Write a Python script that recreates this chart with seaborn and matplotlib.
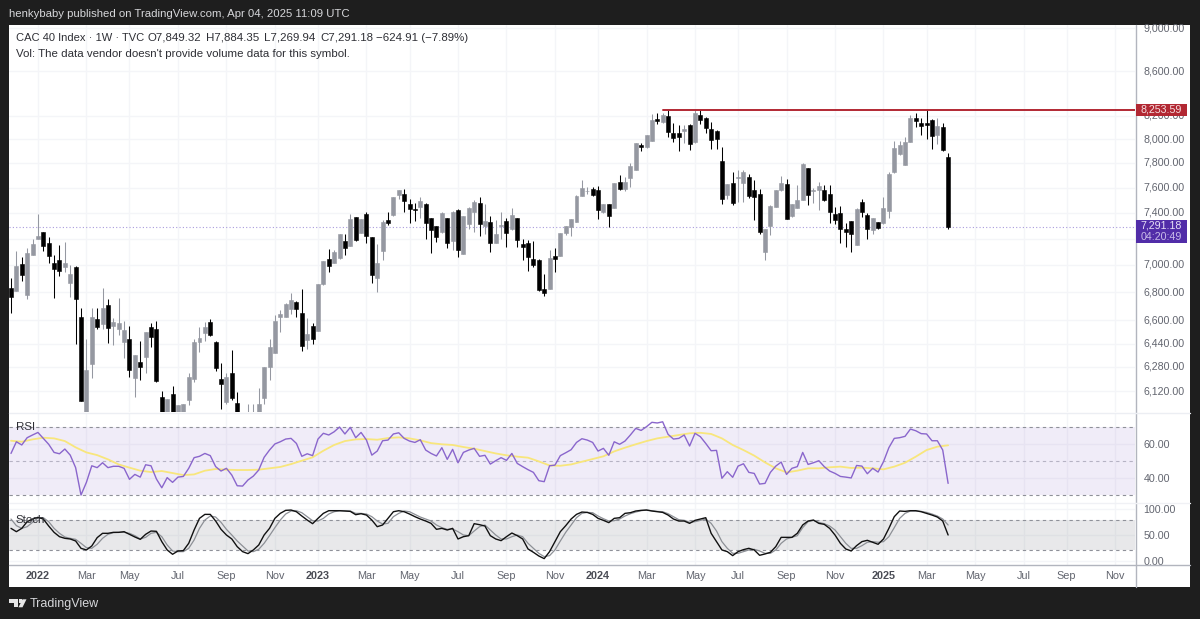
import numpy as np
import pandas as pd
import seaborn as sns
import matplotlib
matplotlib.use("Agg")
import matplotlib.pyplot as plt
from matplotlib.patches import Rectangle, Polygon
from matplotlib.lines import Line2D
from matplotlib.transforms import ScaledTranslation

# weekly OHLC: (open, high, low, close)
ohlc = [
(6834,6902,6655,6767),(6812,7107,6810,6995),(7005,7057,6885,6929),(6783,7125,6750,7087),(7072,7200,7072,7155),
(7195,7390,7195,7218),(7247,7247,7107,7145),(7167,7213,7018,7070),(7018,7075,6757,6971),(7037,7152,6922,6954),
(6988,7170,6951,7012),(6871,7000,6764,6934),(6988,6990,6436,6755),(6621,6686,6061,6061),(5960,6468,5930,6262),
(6298,6686,6211,6621),(6610,6686,6540,6551),(6574,6829,6543,6688),(6712,6750,6445,6549),(6558,6614,6429,6591),
(6543,6757,6498,6579),(6447,6598,6340,6534),(6468,6560,6218,6258),(6209,6362,6085,6362),(6315,6456,6196,6284),
(6351,6516,6240,6516),(6551,6584,6418,6484),(6537,6593,6185,6189),(6085,6120,5930,5960),(5980,6072,5950,6072),
(6103,6155,5950,5970),(5950,6031,5920,6031),(5950,6038,5920,6038),(6068,6244,6031,6218),(6200,6468,6185,6447),
(6447,6556,6385,6475),(6509,6586,6458,6553),(6586,6610,6491,6498),(6449,6454,6256,6273),(6200,6306,6010,6170),
(6050,6244,6042,6213),(6242,6396,6064,6077),(6048,6116,5900,5950),(5900,5960,5750,5800),(5850,6038,5800,5900),
(5900,6042,5850,5950),(5940,6140,5900,6036),(6075,6278,6038,6278),(6282,6468,6196,6416),(6378,6637,6378,6595),
(6621,6672,6520,6642),(6626,6721,6621,6717),(6681,6793,6645,6745),(6729,6738,6621,6679),(6650,6822,6390,6425),
(6465,6614,6400,6507),(6562,6579,6440,6473),(6524,6861,6524,6861),(6861,7028,6854,7028),(7043,7118,6951,6995),
(7018,7113,7012,7100),(7053,7236,7048,7236),(7182,7231,7078,7128),(7146,7390,7146,7348),(7363,7368,7182,7187),
(7244,7350,7239,7350),(7387,7403,7166,7218),(7213,7213,6865,6928),(6902,7156,6800,7018),(7103,7340,7040,7325),
(7344,7403,7305,7320),(7381,7521,7376,7521),(7538,7581,7506,7578),(7552,7587,7408,7493),(7472,7509,7320,7432),
(7432,7475,7335,7419),(7448,7523,7355,7496),(7472,7480,7197,7320),(7357,7357,7087,7268),(7294,7294,7172,7213),
(7247,7403,7239,7395),(7357,7357,7130,7162),(7180,7416,7112,7403),(7419,7427,7057,7112),(7085,7376,7085,7376),
(7315,7443,7276,7435),(7408,7502,7250,7483),(7475,7528,7218,7315),(7294,7467,7234,7339),(7328,7376,7100,7167),
(7167,7340,7167,7234),(7297,7408,7200,7304),(7333,7355,7137,7242),(7276,7435,7268,7379),(7355,7355,7137,7187),
(7160,7200,7037,7135),(7167,7192,6952,7060),(7045,7180,6987,7003),(7035,7043,6812,6817),(6822,6935,6775,6795),
(6824,7110,6824,7052),(7070,7125,6950,7045),(7070,7239,7068,7239),(7239,7296,7226,7296),(7291,7348,7221,7348),
(7330,7541,7325,7533),(7536,7663,7536,7600),(7570,7603,7548,7575),(7586,7603,7535,7540),(7584,7614,7352,7418),
(7405,7466,7395,7466),(7472,7472,7285,7373),(7440,7638,7435,7638),(7646,7706,7581,7592),(7592,7685,7575,7649),
(7674,7800,7603,7778),(7745,7969,7745,7969),(7951,7971,7900,7931),(7937,8037,7929,8034),(7989,8217,7989,8167),
(8178,8230,8132,8155),(8152,8230,8137,8206),(8203,8253,8023,8063),(8051,8143,7980,8014),(8051,8123,7905,8023),
(8071,8123,7966,8089),(8120,8132,7910,7957),(7974,8253,7971,8223),(8212,8253,8132,8167),(8180,8194,8051,8094),
(8091,8149,7919,7992),(8071,8080,7919,8003),(7814,7933,7469,7505),(7537,7630,7510,7630),(7638,7726,7458,7480),
(7680,7740,7488,7685),(7641,7745,7488,7729),(7688,7713,7520,7536),(7578,7663,7341,7525),(7548,7587,7234,7250),
(7097,7270,7037,7270),(7293,7461,7226,7450),(7445,7578,7442,7578),(7581,7696,7575,7636),(7630,7671,7347,7352),
(7376,7466,7368,7466),(7435,7619,7435,7504),(7504,7805,7504,7797),(7756,7761,7461,7543),(7573,7595,7480,7584),
(7581,7646,7421,7616),(7581,7622,7496,7501),(7546,7619,7320,7408),(7387,7448,7312,7340),(7397,7453,7162,7270),
(7272,7317,7132,7252),(7333,7333,7095,7234),(7148,7435,7148,7432),(7485,7512,7368,7408),(7384,7395,7200,7272),
(7264,7355,7238,7355),(7326,7326,7274,7277),(7316,7523,7310,7435),(7413,7731,7360,7712),(7723,7989,7717,7930),
(7875,7989,7870,7951),(7787,8023,7785,7977),(7980,8209,7980,8180),(8183,8230,8103,8155),(8143,8180,8037,8114),
(8140,8260,8003,8120),(8166,8172,7919,8031),(8040,8180,7960,8117),(8109,8143,7900,7912),(7849.32,7884.35,7269.94,7291.18),
]

rsi = [54.3,61.2,59.3,63.6,65.2,66.7,63.2,59.7,54.9,54.1,56.9,53.3,45.9,29.7,37.2,47.0,45.9,48.8,45.9,46.7,
46.7,45.5,39.0,41.9,40.3,47.6,47.0,39.2,34.0,40.0,37.2,40.3,40.7,45.5,51.8,52.6,54.3,53.0,46.5,43.9,
45.5,41.5,35.2,35.0,38.6,40.9,44.5,52.0,56.3,59.9,61.2,62.8,63.2,60.2,52.6,54.1,53.0,62.8,66.2,65.2,
67.1,69.9,65.8,69.7,63.6,66.7,62.2,53.3,55.7,61.8,62.2,65.8,66.5,
63.2,61.6,60.8,62.4,56.3,54.3,52.8,57.7,50.8,56.7,48.8,54.9,56.3,57.3,52.6,53.2,48.0,50.0,51.8,50.2,
54.3,48.4,46.5,44.7,43.1,38.2,37.6,47.0,47.4,53.0,54.7,56.5,60.8,63.0,62.2,60.8,55.7,57.3,53.2,61.2,
59.7,61.6,65.2,69.1,67.9,70.1,72.7,72.3,73.0,65.6,62.8,63.2,65.2,58.7,66.2,64.2,60.2,55.9,56.1,39.6,
43.5,40.2,46.8,48.2,43.1,42.5,36.2,36.6,43.1,46.8,49.2,41.9,
45.5,46.5,54.9,47.8,48.8,50.0,46.5,43.9,42.5,40.7,40.3,39.8,47.2,46.8,42.3,45.5,43.3,49.4,57.7,63.2,
63.6,64.4,68.7,67.7,66.0,65.8,61.8,61.8,56.3,36.6]

# RSI moving average, read every second week
rsi_ma = [61.8,61.2,62.6,63.6,63.2,61.6,57.9,54.9,53.3,50.8,47.8,45.9,44.1,43.3,43.9,42.7,41.5,41.9,44.1,45.1,
44.7,44.5,44.5,44.7,45.5,46.3,48.0,50.0,52.0,55.9,59.3,61.6,62.6,62.8,62.4,63.4,63.8,
63.2,62.0,60.4,59.7,59.3,58.1,57.1,55.7,54.3,53.2,52.4,51.8,49.6,47.2,47.0,47.8,49.4,51.0,52.6,55.5,
57.7,59.7,61.6,63.2,64.2,65.2,66.2,66.5,65.8,63.2,59.3,56.3,53.0,49.0,45.5,43.1,
44.1,45.5,45.5,46.1,46.5,45.7,45.9,45.5,44.9,46.5,48.8,52.4,56.3,58.3,59.1]

stoch_k = [63.0,56.5,63.0,76.1,81.3,84.6,81.3,67.6,55.2,46.7,43.5,42.2,38.3,23.9,20.7,28.5,44.8,53.3,53.3,55.2,
55.2,56.5,51.3,46.1,41.5,51.3,57.8,57.2,37.0,20.7,12.2,18.7,19.4,33.7,59.8,82.6,90.4,90.4,77.4,61.1,
50.0,42.2,27.2,17.4,13.5,20.7,30.4,50.0,63.0,82.6,92.4,98.3,98.9,95.6,87.2,79.3,72.2,82.6,92.4,97.6,
97.6,97.6,97.0,96.3,89.8,91.7,89.1,79.3,66.3,69.6,82.6,95.6,97.6,
95.6,91.1,85.9,81.3,77.4,72.8,61.1,63.0,59.8,63.0,42.2,46.7,48.7,72.2,70.2,67.6,48.7,42.2,38.9,46.7,
53.9,48.7,42.2,22.6,16.1,8.9,3.7,17.4,37.0,56.5,68.3,81.3,90.4,95.0,94.3,90.4,82.6,78.7,74.2,82.6,
83.9,92.4,93.7,97.0,98.3,98.9,97.0,95.6,94.3,89.1,81.3,77.4,77.4,72.8,78.7,81.3,83.9,53.3,37.0,20.7,
17.4,9.6,17.4,21.3,23.9,20.7,10.2,12.8,16.1,27.2,45.4,45.4,45.4,53.3,
69.6,77.4,79.3,72.8,70.9,63.0,50.0,33.7,22.6,18.7,29.1,37.0,39.6,35.7,31.8,42.2,63.0,85.9,97.0,96.3,
97.6,97.6,95.6,92.4,89.1,85.2,77.4,50.0]

stoch_d = [81.3,68.3,63.0,66.3,74.8,83.3,83.9,76.1,63.0,53.3,46.1,43.5,41.5,33.7,25.2,23.9,31.8,43.5,51.3,54.6,
55.2,55.2,53.3,48.7,42.2,45.4,53.3,55.2,46.7,30.4,18.7,17.4,17.4,23.9,40.2,63.0,79.3,87.2,85.2,74.8,
61.1,50.0,38.3,28.5,18.7,17.4,22.0,33.7,48.7,64.4,79.3,91.1,97.0,97.6,93.7,85.9,78.0,77.4,82.6,91.1,
95.6,97.6,97.6,97.0,92.4,92.4,91.1,85.9,77.4,71.5,72.8,85.9,92.4,
97.0,95.6,90.4,85.2,81.3,77.4,69.6,64.4,61.1,61.7,56.5,50.0,48.7,57.8,66.3,69.6,59.8,50.0,42.2,42.2,
46.7,50.0,46.7,33.7,23.9,14.1,7.6,9.6,20.7,38.3,55.2,69.6,83.9,92.4,94.3,93.7,87.2,81.9,77.4,78.0,
81.3,87.2,91.7,95.0,97.6,98.9,97.6,96.3,95.6,91.7,85.9,80.0,78.7,74.8,76.1,78.7,81.3,72.8,57.8,37.0,
23.9,14.1,14.1,17.4,20.7,22.0,18.7,14.1,14.1,20.7,33.7,42.2,45.4,48.7,
64.4,76.1,78.7,74.8,72.2,67.6,59.8,46.7,33.7,23.9,23.9,29.1,35.7,37.0,35.7,37.0,46.7,64.4,82.6,92.4,
97.0,97.0,96.3,94.3,91.1,87.2,81.3,69.6]

tick_pos = [5,14,22,31,40,49,57,66,74,83,92,101,109,118,127,135,144,153,162,170,179,188,196,205]
tick_labels = ["2022","Mar","May","Jul","Sep","Nov","2023","Mar","May","Jul","Sep","Nov",
               "2024","Mar","May","Jul","Sep","Nov","2025","Mar","May","Jul","Sep","Nov"]
price_ticks = [9000,8600,8200,8000,7800,7600,7400,7200,7000,6800,6600,6440,6280,6120]
price_tick_labels = ["9,000.00","8,600.00","8,200.00","8,000.00","7,800.00","7,600.00","7,400.00","",
                     "7,000.00","6,800.00","6,600.00","6,440.00","6,280.00","6,120.00"]
resistance = 8253.59
last_close = 7291.18
price_limits = (5988, 9038)
xlimits = (-0.37, 208.7)
rsi_limits = (25.0, 78.2)
stoch_limits = (-8.2, 112.7)

W, H = 1200, 619
FONT = ["Liberation Sans", "DejaVu Sans"]
BG = "#1e1e1e"; GRID = "#f4f5f8"; AXC = "#b2b5be"; TXT = "#62656f"; INK = "#2e2f35"
UP = "#9598a1"; DOWN = "#000000"

sns.set_style("white")
plt.rcParams["font.family"] = FONT
fig = plt.figure(figsize=(W/100, H/100), dpi=100, facecolor=BG)

def fx(x): return x / W
def fy(y): return 1 - y / H
def pane(x0, y0, x1, y1):
    ax = fig.add_axes([fx(x0), fy(y1), (x1-x0)/W, (y1-y0)/H], facecolor="white")
    for s in ax.spines.values():
        s.set_visible(False)
    ax.set_xlim(*xlimits)
    ax.grid(True, color=GRID, lw=1)
    ax.set_axisbelow(True)
    ax.set_xticks(tick_pos)
    ax.tick_params(axis="x", length=0, labelbottom=False)
    ax.yaxis.tick_right()
    ax.tick_params(axis="y", length=0, labelsize=7.7, labelcolor=TXT, pad=6)
    return ax

fig.patches.append(Rectangle((fx(9), fy(587)), (1190-9)/W, (587-24.5)/H, transform=fig.transFigure,
                             fc="white", ec="none", zorder=-1))

# ---------- price pane ----------
ax = pane(9, 24.5, 1135, 412)
ax.set_yscale("log")
ax.set_ylim(*price_limits)
ax.set_yticks(price_ticks)
ax.set_yticklabels(price_tick_labels)
ax.minorticks_off()
up_shift = ScaledTranslation(0, 1.2/100, fig.dpi_scale_trans)
for lab in ax.get_yticklabels():
    lab.set_transform(lab.get_transform() + up_shift)

df = pd.DataFrame(ohlc, columns=["open", "high", "low", "close"])
df["i"] = np.arange(len(df))
df["color"] = np.where(df["close"] >= df["open"], UP, DOWN)
ax.vlines(df["i"], df["low"], df["high"], colors=df["color"], lw=0.75, zorder=3)
ax.bar(df["i"], (df["close"]-df["open"]).abs(), bottom=df[["open", "close"]].min(axis=1),
       width=0.74, color=df["color"], edgecolor=df["color"], linewidth=0.4, zorder=4)
ax.axhline(last_close, color="#a99bdc", lw=0.8, ls=(0, (1, 2)), zorder=2)
ax.plot([121, xlimits[1]], [resistance, resistance], color="#b22833", lw=1.4, zorder=5)

# legend rows
for x, s in ((16, "CAC 40 Index · 1W · TVC"), (147, "O7,849.32"), (205.7, "H7,884.35"), (264, "L7,269.94"),
             (320.7, "C7,291.18"), (375.7, "−624.91 (−7.89%)")):
    fig.text(fx(x), fy(38), s, fontsize=8.0 if x == 16 else 8.25, color=INK, va="center", zorder=6)
fig.text(fx(16), fy(54), "Vol: The data vendor doesn't provide volume data for this symbol.",
         fontsize=8.25, color=INK, va="center", zorder=6)

# ---------- RSI pane ----------
ar = pane(9, 413, 1135, 503)
ar.set_ylim(*rsi_limits)
ar.set_yticks([40, 60])
ar.set_yticklabels(["40.00", "60.00"])
ar.axhspan(30, 70, color="#7e57c2", alpha=0.11, lw=0, zorder=1)
for lvl, col in ((70, "#8f9199"), (50, "#b6b3c4"), (30, "#8f9199")):
    ar.axhline(lvl, color=col, lw=0.8, ls=(0, (3, 3)), zorder=2)
sns.lineplot(x=np.arange(len(rsi)), y=rsi, ax=ar, color="#8a66cc", lw=1.0, zorder=4, legend=False)
ma_x = np.arange(0, 2*len(rsi_ma), 2)
sns.lineplot(x=ma_x, y=rsi_ma, ax=ar, color="#f8e67c", lw=1.3, zorder=3, legend=False)
ar.text(0.0062, 0.84, "RSI", transform=ar.transAxes, fontsize=8.25, color=INK, va="center", zorder=6)

# ---------- Stoch pane ----------
ast = pane(9, 503, 1135, 564.7)
ast.set_ylim(*stoch_limits)
ast.set_yticks([0, 50, 100])
ast.set_yticklabels(["0.00", "50.00", "100.00"])
ast.axhspan(20, 80, color="#787b86", alpha=0.17, lw=0, zorder=1)
for lvl in (80, 20):
    ast.axhline(lvl, color="#8f9199", lw=0.8, ls=(0, (3, 3)), zorder=2)
sns.lineplot(x=np.arange(len(stoch_d)), y=stoch_d, ax=ast, color="#8d9096", lw=0.9, zorder=3, legend=False)
sns.lineplot(x=np.arange(len(stoch_k)), y=stoch_k, ax=ast, color="#111111", lw=1.0, zorder=4, legend=False)
ast.text(0.0062, 0.73, "Stoch", transform=ast.transAxes, fontsize=8.25, color=INK, va="center", zorder=6)

# time axis labels
tr = ast.get_xaxis_transform()
for p, lab in zip(tick_pos, tick_labels):
    year = lab.isdigit()
    ast.text(p, -0.185, lab, transform=tr, ha="center", va="center", fontsize=7.8,
             color="#4a4c55" if year else TXT, fontweight="bold" if year else "normal", clip_on=False)

# axis frame lines
for xs, ys, c, lw in [((9, 1190), (564.7, 564.7), AXC, 1.0), ((1135.5, 1135.5), (24.5, 587), AXC, 1.0),
                      ((9, 1190), (412.5, 412.5), "#eceef3", 1.0), ((9, 1190), (503, 503), "#f0f1f5", 1.0)]:
    fig.add_artist(Line2D([fx(v) for v in xs], [fy(v) for v in ys], color=c, lw=lw, zorder=2))

# price tags
def tag(y0, y1, col):
    fig.patches.append(Rectangle((fx(1136), fy(y1)), 51/W, (y1-y0)/H, transform=fig.transFigure,
                                 fc=col, ec="none", zorder=3))
tag(103.5, 115.5, "#b22833")
tag(220, 243, "#512da8")
fig.text(fx(1161.5), fy(109.5), "8,253.59", color="#f6dfe1", fontsize=7.7, ha="center", va="center", zorder=4)
fig.text(fx(1161.5), fy(226), "7,291.18", color="#e6dff5", fontsize=7.7, ha="center", va="center", zorder=4)
fig.text(fx(1161.5), fy(236.5), "04:20:49", color="#c9bce9", fontsize=7.7, ha="center", va="center", zorder=4)

# header and footer
fig.text(fx(9), fy(14), "henkybaby published on TradingView.com, Apr 04, 2025 11:09 UTC",
         color="#d6d7da", fontsize=8.2, va="center")
fig.text(fx(30), fy(604), "TradingView", color="#d6d7da", fontsize=9.0, va="center")
lg = "#e6e6e6"
fig.patches.append(Polygon([(fx(a), fy(b)) for a, b in [(9.3,599.3),(18,599.3),(18,607.3),(14,607.3),(14,602.6),(9.3,602.6)]],
                           transform=fig.transFigure, fc=lg, ec="none", zorder=3))
fig.patches.append(Polygon([(fx(a), fy(b)) for a, b in [(22.5,599.3),(26.5,599.3),(22.5,607.3),(18.5,607.3)]],
                           transform=fig.transFigure, fc=lg, ec="none", zorder=3))
fig.patches.append(Rectangle((fx(18.6), fy(602.6)), 3/W, 3.3/H, transform=fig.transFigure, fc=lg, ec="none", zorder=3))

fig.savefig("out.png", dpi=100, facecolor=BG)
